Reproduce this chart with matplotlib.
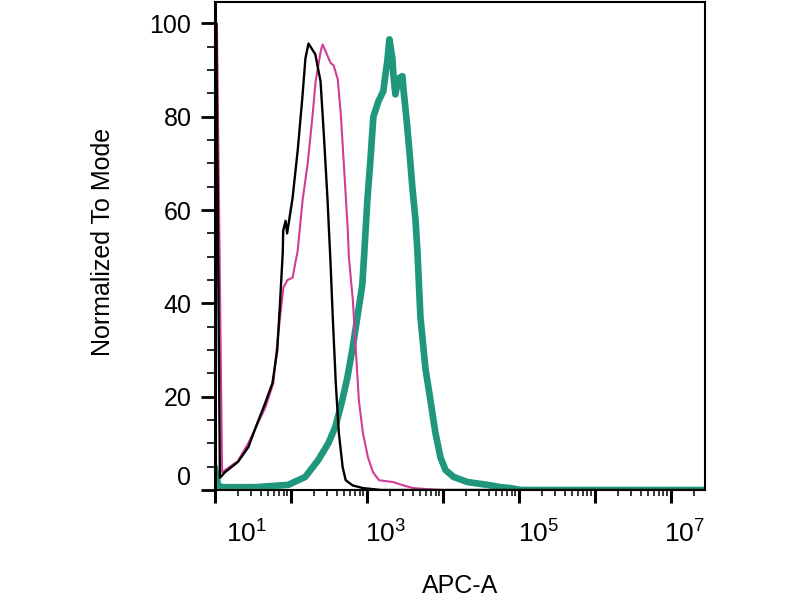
import numpy as np
import matplotlib
matplotlib.use('Agg')
import matplotlib.pyplot as plt
import matplotlib.transforms as mtransforms
from matplotlib.ticker import FixedLocator, NullFormatter

plt.rcParams['font.family'] = ['Liberation Sans', 'DejaVu Sans']
plt.rcParams['mathtext.fontset'] = 'custom'
plt.rcParams['mathtext.rm'] = 'Liberation Sans'
plt.rcParams['mathtext.it'] = 'Liberation Sans:italic'
plt.rcParams['mathtext.bf'] = 'Liberation Sans:bold'

# Histogram traces (APC-A intensity, % of mode)
black_x = [10.2, 10.4, 11.6, 13.5, 20, 27.5, 36, 45.7, 57, 66, 72, 78, 79, 85, 89,
           105, 123, 141, 155, 170, 209, 245, 269, 302, 331, 355, 389, 427, 479,
           525, 646, 891, 1550, 2.8e7]
black_y = [100, 100, 2.6, 3.8, 6, 9.2, 14.3, 18.6, 22.9, 30, 40.6, 51, 55.6, 57.7, 55,
           62.6, 73, 84, 92.5, 95.7, 93.4, 87.6, 77, 62.6, 49, 37, 22.9, 12.2, 4.9,
           2.1, 1, 0.4, 0, 0]

magenta_x = [10.2, 10.6, 12.4, 20, 27.4, 46, 58.6, 68, 79.5, 90, 105, 115, 122, 142,
             166, 193, 211, 246, 261, 304, 333, 365, 413, 453, 496, 560, 578, 653,
             714, 783, 885, 1031, 1202, 1442, 2209, 2997, 4065, 6030, 9550, 2.8e7]
magenta_y = [100, 100, 3.8, 6.2, 10, 17.7, 22.9, 33.5, 43.4, 45, 45.5, 49, 51, 62,
             70, 80.5, 87.6, 94, 95.5, 93, 91.5, 91, 88, 80.5, 70, 55.6, 50, 40.6,
             30, 19.2, 12.2, 7, 3.8, 2.1, 1.7, 1, 0.4, 0.2, 0, 0]

teal_x = [10, 11.0, 12.4, 33.7, 92, 154, 228, 310, 383, 473, 551, 641, 747, 869, 924,
          1012, 1109, 1215, 1414, 1644, 1749, 1858, 1976, 2163, 2230, 2370, 2595,
          2931, 3020, 3311, 3624, 3972, 4352, 4627, 5063, 5893, 6856, 7980, 9285,
          10810, 13800, 21100, 38700, 57500, 78000, 105700, 2.8e7]
teal_y = [4.5, 1.0, 0.6, 0.6, 1.1, 2.8, 6.4, 10, 13.5, 19.2, 24, 30, 37, 44, 51,
          62, 70.5, 80, 83.3, 85.5, 89, 92, 96.6, 92.5, 89, 84.8, 88.2,
          88.7, 86, 79.7, 72.6, 64.7, 58, 51, 37, 26, 19.2, 12.2, 7,
          4.3, 2.8, 1.7, 1.1, 0.6, 0.4, 0, 0]

decade_labels = [r'$\mathregular{10^{1}}$', r'$\mathregular{10^{3}}$',
                 r'$\mathregular{10^{5}}$', r'$\mathregular{10^{7}}$']
label_decades = [1.42, 3.25, 5.26, 7.18]   # where each label sits, in decades

fig = plt.figure(figsize=(8, 6), dpi=100)
ax = fig.add_axes([215 / 800, 1 - 490 / 600, 490 / 800, 488 / 600])

ax.plot(teal_x, teal_y, color='#1f977d', linewidth=4.8, solid_joinstyle='round', zorder=2)
ax.plot(magenta_x, magenta_y, color='#d23c96', linewidth=1.5, zorder=3)
ax.plot(black_x, black_y, color='black', linewidth=1.7, zorder=4)

ax.set_xscale('log')
ax.set_xlim(10, 10 ** 7.45)
ax.set_ylim(0, 104.6)

# x ticks: every decade long, 2..9 short, labels drawn by hand
ax.xaxis.set_major_locator(FixedLocator([10.0 ** k for k in range(1, 8)]))
ax.xaxis.set_minor_locator(FixedLocator([m * 10.0 ** k for k in range(1, 8) for m in range(2, 10)]))
ax.xaxis.set_major_formatter(NullFormatter())
ax.xaxis.set_minor_formatter(NullFormatter())

ax.set_yticks([0, 20, 40, 60, 80, 100])
ax.set_yticks(np.arange(0, 101, 5), minor=True)
ax.tick_params(axis='y', which='major', length=10, width=2.0, pad=7, labelsize=18, direction='out')
ax.tick_params(axis='y', which='minor', length=6, width=1.2, direction='out')
ax.tick_params(axis='x', which='major', length=9.5, width=2.2, direction='out')
ax.tick_params(axis='x', which='minor', length=4.5, width=1.1, direction='out')
ax.yaxis.get_major_ticks()[0].label1.set_verticalalignment('bottom')

for side in ['top', 'right', 'bottom']:
    ax.spines[side].set_linewidth(1.5)
ax.spines['left'].set_linewidth(2.2)

trans = mtransforms.blended_transform_factory(ax.transData, fig.transFigure)
for lab, d in zip(decade_labels, label_decades):
    ax.text(10 ** d, 1 - 543 / 600, lab, transform=trans, ha='center', va='baseline',
            fontsize=19, clip_on=False)

fig.text(460 / 800, 0.012, 'APC-A', ha='center', va='baseline', fontsize=18)
fig.text(103 / 800, 1 - 242 / 600, 'Normalized To Mode', rotation=90,
         ha='center', va='center', fontsize=18)

fig.savefig('out.png', dpi=100)
